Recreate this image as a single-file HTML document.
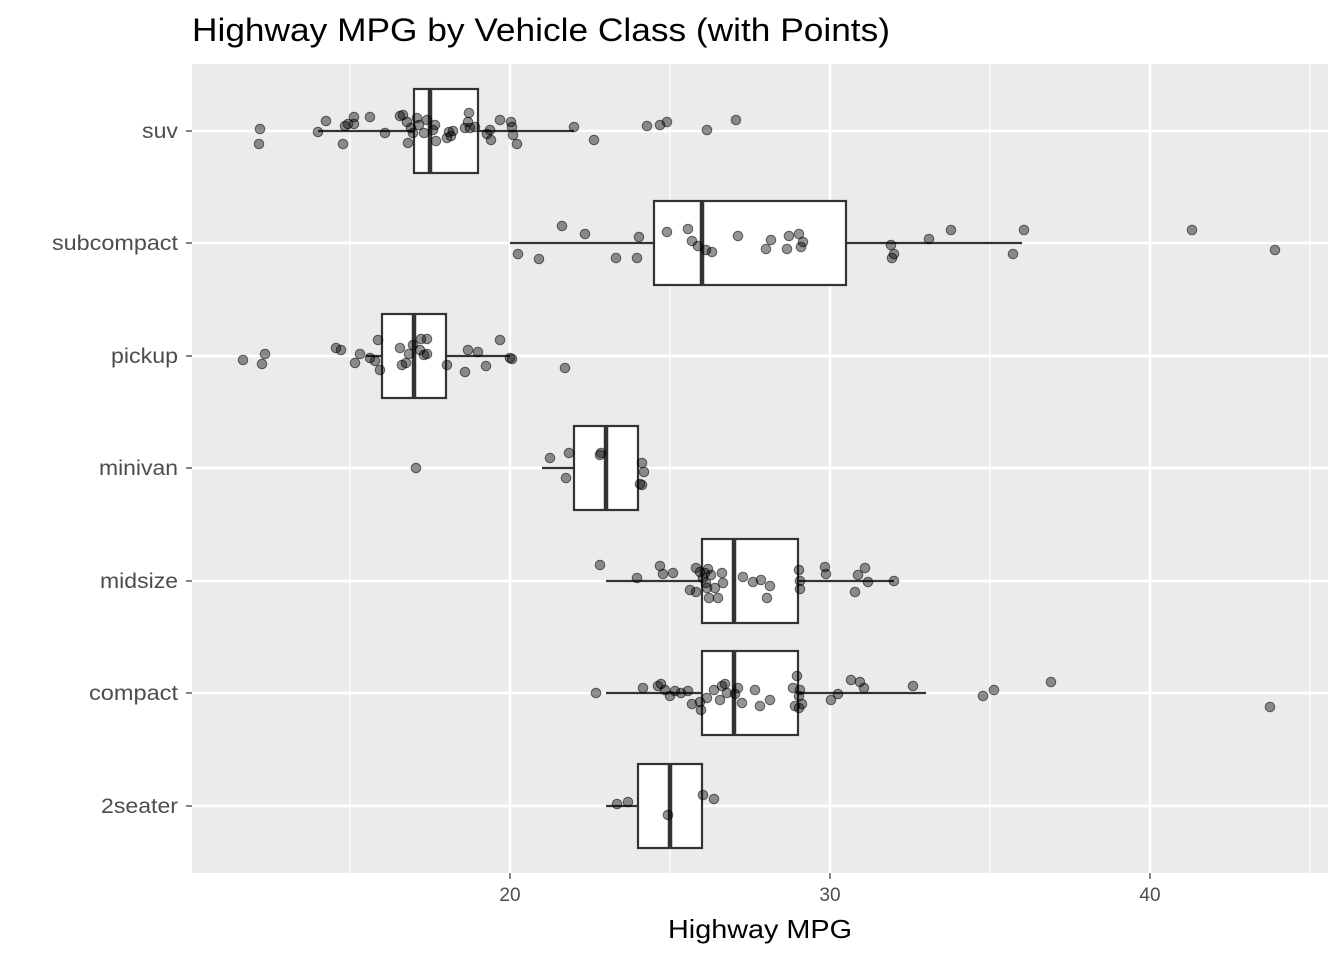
<!DOCTYPE html>
<html><head><meta charset="utf-8"><style>
html,body{margin:0;padding:0;background:#fff;}
svg{display:block;font-family:"Liberation Sans",sans-serif;}
</style></head><body>
<svg width="1344" height="960" xmlns="http://www.w3.org/2000/svg">
<rect width="1344" height="960" fill="#fff"/>
<text x="192" y="41" font-size="32" fill="#000" textLength="698" lengthAdjust="spacingAndGlyphs">Highway MPG by Vehicle Class (with Points)</text>
<rect x="192" y="64" width="1136" height="809" fill="#ebebeb"/>
<g stroke="#fff" stroke-width="1.2">
<line x1="350" y1="64" x2="350" y2="873"/><line x1="670" y1="64" x2="670" y2="873"/>
<line x1="990" y1="64" x2="990" y2="873"/><line x1="1310" y1="64" x2="1310" y2="873"/>
</g>
<g stroke="#fff" stroke-width="2.4">
<line x1="510" y1="64" x2="510" y2="873"/><line x1="830" y1="64" x2="830" y2="873"/><line x1="1150" y1="64" x2="1150" y2="873"/>
<line x1="192" y1="131" x2="1328" y2="131"/><line x1="192" y1="243" x2="1328" y2="243"/>
<line x1="192" y1="356" x2="1328" y2="356"/><line x1="192" y1="468" x2="1328" y2="468"/>
<line x1="192" y1="581" x2="1328" y2="581"/><line x1="192" y1="693" x2="1328" y2="693"/>
<line x1="192" y1="806" x2="1328" y2="806"/>
</g>
<g stroke="#333" stroke-width="2.2" fill="#fff">
<line x1="318" y1="131" x2="574" y2="131"/><rect x="414" y="89" width="64" height="84"/><line x1="430" y1="89" x2="430" y2="173" stroke-width="4.5"/>
<line x1="510" y1="243" x2="1022" y2="243"/><rect x="654" y="201" width="192" height="84"/><line x1="702" y1="201" x2="702" y2="285" stroke-width="4.5"/>
<line x1="366" y1="356" x2="510" y2="356"/><rect x="382" y="314" width="64" height="84"/><line x1="414" y1="314" x2="414" y2="398" stroke-width="4.5"/>
<line x1="542" y1="468" x2="638" y2="468"/><rect x="574" y="426" width="64" height="84"/><line x1="606" y1="426" x2="606" y2="510" stroke-width="4.5"/>
<line x1="606" y1="581" x2="894" y2="581"/><rect x="702" y="539" width="96" height="84"/><line x1="734" y1="539" x2="734" y2="623" stroke-width="4.5"/>
<line x1="606" y1="693" x2="926" y2="693"/><rect x="702" y="651" width="96" height="84"/><line x1="734" y1="651" x2="734" y2="735" stroke-width="4.5"/>
<line x1="606" y1="806" x2="702" y2="806"/><rect x="638" y="764" width="64" height="84"/><line x1="670" y1="764" x2="670" y2="848" stroke-width="4.5"/>
</g>
<g fill="#000" fill-opacity="0.42" stroke="#000" stroke-opacity="0.55" stroke-width="1">
<circle cx="260" cy="129" r="4.8"/><circle cx="259" cy="144" r="4.8"/><circle cx="318" cy="132" r="4.8"/><circle cx="326" cy="121" r="4.8"/><circle cx="343" cy="144" r="4.8"/><circle cx="345" cy="126" r="4.8"/><circle cx="348" cy="124" r="4.8"/><circle cx="354" cy="117" r="4.8"/><circle cx="354" cy="124" r="4.8"/><circle cx="370" cy="117" r="4.8"/><circle cx="385" cy="133" r="4.8"/><circle cx="400" cy="116" r="4.8"/><circle cx="403" cy="115" r="4.8"/><circle cx="407" cy="122" r="4.8"/><circle cx="408" cy="143" r="4.8"/><circle cx="411" cy="128" r="4.8"/><circle cx="413" cy="133" r="4.8"/><circle cx="417" cy="118" r="4.8"/><circle cx="419" cy="125" r="4.8"/><circle cx="424" cy="133" r="4.8"/><circle cx="427" cy="120" r="4.8"/><circle cx="433" cy="130" r="4.8"/><circle cx="435" cy="125" r="4.8"/><circle cx="436" cy="141" r="4.8"/><circle cx="447" cy="138" r="4.8"/><circle cx="449" cy="132" r="4.8"/><circle cx="451" cy="136" r="4.8"/><circle cx="453" cy="131" r="4.8"/><circle cx="465" cy="128" r="4.8"/><circle cx="468" cy="122" r="4.8"/><circle cx="469" cy="113" r="4.8"/><circle cx="470" cy="128" r="4.8"/><circle cx="475" cy="127" r="4.8"/><circle cx="487" cy="134" r="4.8"/><circle cx="490" cy="130" r="4.8"/><circle cx="491" cy="140" r="4.8"/><circle cx="500" cy="120" r="4.8"/><circle cx="511" cy="122" r="4.8"/><circle cx="512" cy="127" r="4.8"/><circle cx="513" cy="135" r="4.8"/><circle cx="517" cy="144" r="4.8"/><circle cx="574" cy="127" r="4.8"/><circle cx="594" cy="140" r="4.8"/><circle cx="647" cy="126" r="4.8"/><circle cx="660" cy="125" r="4.8"/><circle cx="667" cy="122" r="4.8"/><circle cx="707" cy="130" r="4.8"/><circle cx="736" cy="120" r="4.8"/>
<circle cx="518" cy="254" r="4.8"/><circle cx="539" cy="259" r="4.8"/><circle cx="562" cy="226" r="4.8"/><circle cx="585" cy="234" r="4.8"/><circle cx="616" cy="258" r="4.8"/><circle cx="637" cy="258" r="4.8"/><circle cx="639" cy="237" r="4.8"/><circle cx="667" cy="232" r="4.8"/><circle cx="688" cy="229" r="4.8"/><circle cx="692" cy="241" r="4.8"/><circle cx="698" cy="246" r="4.8"/><circle cx="706" cy="250" r="4.8"/><circle cx="712" cy="252" r="4.8"/><circle cx="738" cy="236" r="4.8"/><circle cx="766" cy="249" r="4.8"/><circle cx="771" cy="240" r="4.8"/><circle cx="789" cy="236" r="4.8"/><circle cx="799" cy="234" r="4.8"/><circle cx="787" cy="249" r="4.8"/><circle cx="801" cy="247" r="4.8"/><circle cx="803" cy="242" r="4.8"/><circle cx="891" cy="245" r="4.8"/><circle cx="892" cy="258" r="4.8"/><circle cx="894" cy="254" r="4.8"/><circle cx="929" cy="239" r="4.8"/><circle cx="951" cy="230" r="4.8"/><circle cx="1013" cy="254" r="4.8"/><circle cx="1024" cy="230" r="4.8"/><circle cx="1192" cy="230" r="4.8"/><circle cx="1275" cy="250" r="4.8"/>
<circle cx="243" cy="360" r="4.8"/><circle cx="262" cy="364" r="4.8"/><circle cx="265" cy="354" r="4.8"/><circle cx="336" cy="348" r="4.8"/><circle cx="341" cy="350" r="4.8"/><circle cx="355" cy="363" r="4.8"/><circle cx="360" cy="354" r="4.8"/><circle cx="370" cy="358" r="4.8"/><circle cx="375" cy="361" r="4.8"/><circle cx="380" cy="370" r="4.8"/><circle cx="378" cy="340" r="4.8"/><circle cx="400" cy="348" r="4.8"/><circle cx="402" cy="365" r="4.8"/><circle cx="406" cy="363" r="4.8"/><circle cx="409" cy="354" r="4.8"/><circle cx="413" cy="345" r="4.8"/><circle cx="420" cy="350" r="4.8"/><circle cx="421" cy="339" r="4.8"/><circle cx="424" cy="355" r="4.8"/><circle cx="427" cy="339" r="4.8"/><circle cx="427" cy="354" r="4.8"/><circle cx="447" cy="365" r="4.8"/><circle cx="465" cy="372" r="4.8"/><circle cx="468" cy="350" r="4.8"/><circle cx="478" cy="352" r="4.8"/><circle cx="486" cy="366" r="4.8"/><circle cx="500" cy="340" r="4.8"/><circle cx="512" cy="359" r="4.8"/><circle cx="510" cy="358" r="4.8"/><circle cx="565" cy="368" r="4.8"/>
<circle cx="416" cy="468" r="4.8"/><circle cx="550" cy="458" r="4.8"/><circle cx="566" cy="478" r="4.8"/><circle cx="569" cy="453" r="4.8"/><circle cx="600" cy="455" r="4.8"/><circle cx="601" cy="453" r="4.8"/><circle cx="642" cy="463" r="4.8"/><circle cx="644" cy="472" r="4.8"/><circle cx="640" cy="484" r="4.8"/><circle cx="642" cy="485" r="4.8"/>
<circle cx="600" cy="565" r="4.8"/><circle cx="637" cy="578" r="4.8"/><circle cx="660" cy="566" r="4.8"/><circle cx="663" cy="574" r="4.8"/><circle cx="673" cy="573" r="4.8"/><circle cx="690" cy="590" r="4.8"/><circle cx="696" cy="568" r="4.8"/><circle cx="696" cy="592" r="4.8"/><circle cx="700" cy="572" r="4.8"/><circle cx="703" cy="578" r="4.8"/><circle cx="705" cy="573" r="4.8"/><circle cx="706" cy="583" r="4.8"/><circle cx="707" cy="588" r="4.8"/><circle cx="708" cy="569" r="4.8"/><circle cx="709" cy="598" r="4.8"/><circle cx="711" cy="575" r="4.8"/><circle cx="715" cy="588" r="4.8"/><circle cx="718" cy="598" r="4.8"/><circle cx="722" cy="573" r="4.8"/><circle cx="723" cy="583" r="4.8"/><circle cx="743" cy="577" r="4.8"/><circle cx="753" cy="582" r="4.8"/><circle cx="761" cy="580" r="4.8"/><circle cx="767" cy="598" r="4.8"/><circle cx="770" cy="586" r="4.8"/><circle cx="799" cy="570" r="4.8"/><circle cx="800" cy="581" r="4.8"/><circle cx="800" cy="589" r="4.8"/><circle cx="825" cy="567" r="4.8"/><circle cx="826" cy="574" r="4.8"/><circle cx="855" cy="592" r="4.8"/><circle cx="858" cy="575" r="4.8"/><circle cx="865" cy="568" r="4.8"/><circle cx="868" cy="582" r="4.8"/><circle cx="894" cy="581" r="4.8"/>
<circle cx="596" cy="693" r="4.8"/><circle cx="643" cy="688" r="4.8"/><circle cx="658" cy="686" r="4.8"/><circle cx="661" cy="684" r="4.8"/><circle cx="665" cy="690" r="4.8"/><circle cx="670" cy="696" r="4.8"/><circle cx="675" cy="691" r="4.8"/><circle cx="681" cy="693" r="4.8"/><circle cx="688" cy="691" r="4.8"/><circle cx="692" cy="704" r="4.8"/><circle cx="700" cy="702" r="4.8"/><circle cx="701" cy="710" r="4.8"/><circle cx="707" cy="698" r="4.8"/><circle cx="714" cy="690" r="4.8"/><circle cx="720" cy="700" r="4.8"/><circle cx="722" cy="686" r="4.8"/><circle cx="725" cy="684" r="4.8"/><circle cx="727" cy="693" r="4.8"/><circle cx="735" cy="694" r="4.8"/><circle cx="738" cy="688" r="4.8"/><circle cx="742" cy="703" r="4.8"/><circle cx="755" cy="690" r="4.8"/><circle cx="760" cy="706" r="4.8"/><circle cx="770" cy="700" r="4.8"/><circle cx="793" cy="688" r="4.8"/><circle cx="795" cy="706" r="4.8"/><circle cx="797" cy="676" r="4.8"/><circle cx="799" cy="708" r="4.8"/><circle cx="800" cy="690" r="4.8"/><circle cx="799" cy="696" r="4.8"/><circle cx="802" cy="704" r="4.8"/><circle cx="831" cy="700" r="4.8"/><circle cx="838" cy="694" r="4.8"/><circle cx="851" cy="680" r="4.8"/><circle cx="860" cy="682" r="4.8"/><circle cx="864" cy="688" r="4.8"/><circle cx="913" cy="686" r="4.8"/><circle cx="983" cy="696" r="4.8"/><circle cx="994" cy="690" r="4.8"/><circle cx="1051" cy="682" r="4.8"/><circle cx="1270" cy="707" r="4.8"/>
<circle cx="617" cy="804" r="4.8"/><circle cx="628" cy="802" r="4.8"/><circle cx="668" cy="815" r="4.8"/><circle cx="703" cy="795" r="4.8"/><circle cx="714" cy="799" r="4.8"/>
</g>
<g stroke="#333" stroke-width="1.2">
<line x1="186" y1="131" x2="192" y2="131"/><line x1="186" y1="243" x2="192" y2="243"/><line x1="186" y1="356" x2="192" y2="356"/><line x1="186" y1="468" x2="192" y2="468"/><line x1="186" y1="581" x2="192" y2="581"/><line x1="186" y1="693" x2="192" y2="693"/><line x1="186" y1="806" x2="192" y2="806"/>
<line x1="510" y1="873" x2="510" y2="879"/><line x1="830" y1="873" x2="830" y2="879"/><line x1="1150" y1="873" x2="1150" y2="879"/>
</g>
<g font-size="21" fill="#4d4d4d">
<text x="142" y="138" textLength="36" lengthAdjust="spacingAndGlyphs">suv</text>
<text x="52" y="250" textLength="126" lengthAdjust="spacingAndGlyphs">subcompact</text>
<text x="111" y="363" textLength="67" lengthAdjust="spacingAndGlyphs">pickup</text>
<text x="99" y="475" textLength="79" lengthAdjust="spacingAndGlyphs">minivan</text>
<text x="100" y="588" textLength="78" lengthAdjust="spacingAndGlyphs">midsize</text>
<text x="89" y="700" textLength="89" lengthAdjust="spacingAndGlyphs">compact</text>
<text x="101" y="813" textLength="77" lengthAdjust="spacingAndGlyphs">2seater</text>
</g>
<g font-size="19" fill="#4d4d4d" text-anchor="middle">
<text x="510" y="901">20</text><text x="830" y="901">30</text><text x="1150" y="901">40</text>
</g>
<text x="668" y="938" font-size="26" fill="#000" textLength="184" lengthAdjust="spacingAndGlyphs">Highway MPG</text>
</svg>
</body></html>
